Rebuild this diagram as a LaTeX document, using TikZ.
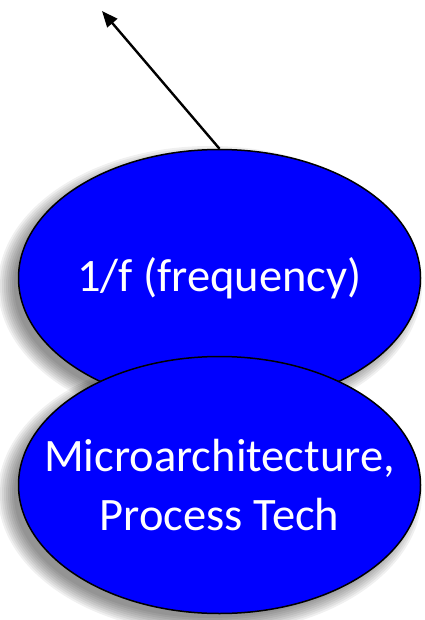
\documentclass[tikz,border=0pt]{standalone}
\usepackage{fontspec}
\setmainfont{Carlito}
\usetikzlibrary{shapes.geometric,arrows.meta}
\begin{document}
\begin{tikzpicture}[x=1pt,y=-1pt,
  bub/.style={ellipse, draw=black, line width=1.5pt, fill=blue, minimum width=402pt, minimum height=257pt, inner sep=0pt},
  txt/.style={text=white, font=\fontsize{46.5}{59}\selectfont, align=center, inner sep=0pt},
  arr/.style={line width=2.4pt, -{Triangle[length=16pt,width=13pt]}},
  shd/.style={fill=black, fill opacity=0.06}]
\useasboundingbox (0,0) rectangle (424,620);
% soft shadows
\foreach \i in {0,...,8} {
  \fill[shd] (210,286) ellipse [x radius={196+2*\i}, y radius={124+2*\i}];
  \fill[shd] (210,494) ellipse [x radius={196+2*\i}, y radius={124+2*\i}];
}
\node[bub, label={[txt]center:1/f (frequency)}] (freq) at (219.5,278) {};
\node[bub, label={[txt]center:Microarchitecture,\\Process Tech}] (micro) at (219.5,485) {};
\coordinate (tip) at (102,11);
\draw[arr] (freq.north) -- (tip);
\end{tikzpicture}
\end{document}
